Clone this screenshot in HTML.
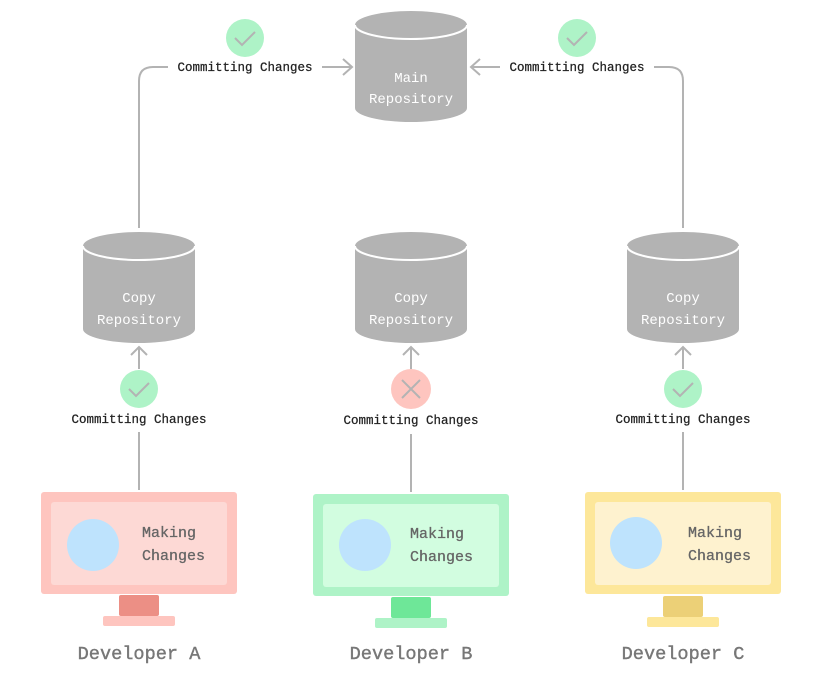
<!DOCTYPE html>
<html><head><meta charset="utf-8"><style>
html,body{margin:0;padding:0;background:#fff;}
svg{display:block;}
.m{font-family:"Liberation Mono","DejaVu Sans Mono",monospace;}
</style></head><body>
<svg width="821" height="679" viewBox="0 0 821 679" xmlns="http://www.w3.org/2000/svg">
<defs>
<g id="cyl">
<path d="M0,14 A56,14 0 0 1 112,14 L112,97 A56,14 0 0 1 0,97 Z" fill="#b3b3b3"/>
<path d="M0,14 A56,14 0 0 0 112,14" fill="none" stroke="#fff" stroke-width="2"/>
</g>
</defs>
<g fill="none" stroke="#b3b3b3" stroke-width="2">
<path d="M139,228 L139,81 Q139,67 153,67 L168,67"/>
<path d="M322,67 L352,67 M343,59 L352,67 L343,75"/>
<path d="M683,228 L683,81 Q683,67 669,67 L654,67"/>
<path d="M500,67 L471,67 M480,59 L471,67 L480,75"/>
<path d="M139,369 L139,347 M131,355 L139,347 L147,355"/>
<path d="M139,432 L139,490"/>
<path d="M411,369 L411,347 M403,355 L411,347 L419,355"/>
<path d="M411,434 L411,492"/>
<path d="M683,369 L683,347 M675,355 L683,347 L691,355"/>
<path d="M683,432 L683,490"/>
</g>
<use href="#cyl" x="355" y="11"/>
<use href="#cyl" x="83" y="232"/>
<use href="#cyl" x="355" y="232"/>
<use href="#cyl" x="627" y="232"/>
<g class="m" fill="#fff" font-size="14" text-anchor="middle">
<text x="411" y="82">Main</text><text x="411" y="103">Repository</text>
<text x="139" y="302">Copy</text><text x="139" y="324">Repository</text>
<text x="411" y="302">Copy</text><text x="411" y="324">Repository</text>
<text x="683" y="302">Copy</text><text x="683" y="324">Repository</text>
</g>
<g>
<circle cx="245" cy="38" r="19" fill="#aef3c7"/>
<circle cx="577" cy="38" r="19" fill="#aef3c7"/>
<circle cx="139" cy="389" r="19" fill="#aef3c7"/>
<circle cx="411" cy="389" r="20" fill="#fec5bf"/>
<circle cx="683" cy="389" r="19" fill="#aef3c7"/>
</g>
<g fill="none" stroke="#b3b3b3" stroke-width="2">
<path d="M235,38 L242,45 L255,32"/>
<path d="M567,38 L574,45 L587,32"/>
<path d="M129,389 L136,396 L149,383"/>
<path d="M673,389 L680,396 L693,383"/>
<path d="M402,380 L420,398 M420,380 L402,398"/>
</g>
<g class="m" fill="#222" font-size="12.5" text-anchor="middle" stroke="#222" stroke-width="0.25">
<text x="245" y="71">Committing Changes</text>
<text x="577" y="71">Committing Changes</text>
<text x="139" y="423">Committing Changes</text>
<text x="411" y="424">Committing Changes</text>
<text x="683" y="423">Committing Changes</text>
</g>
<g>
<rect x="41" y="492" width="196" height="102" rx="3" fill="#fec5bf"/>
<rect x="51" y="502" width="176" height="83" rx="3" fill="#fdd9d5"/>
<rect x="119" y="595" width="40" height="21" rx="2" fill="#ec8f85"/>
<rect x="103" y="616" width="72" height="10" rx="2" fill="#fec5bf"/>
<circle cx="93" cy="545" r="26" fill="#bee3fd"/>
<rect x="313" y="494" width="196" height="102" rx="3" fill="#aef3c7"/>
<rect x="323" y="504" width="176" height="83" rx="3" fill="#d2fde0"/>
<rect x="391" y="597" width="40" height="21" rx="2" fill="#6ee798"/>
<rect x="375" y="618" width="72" height="10" rx="2" fill="#aef3c7"/>
<circle cx="365" cy="545" r="26" fill="#bee3fd"/>
<rect x="585" y="492" width="196" height="102" rx="3" fill="#fde79a"/>
<rect x="595" y="502" width="176" height="83" rx="3" fill="#fef2cf"/>
<rect x="663" y="596" width="40" height="21" rx="2" fill="#ecd077"/>
<rect x="647" y="617" width="72" height="10" rx="2" fill="#fde79a"/>
<circle cx="636" cy="543" r="26" fill="#bee3fd"/>
</g>
<g class="m" fill="#666" font-size="15" stroke="#666" stroke-width="0.3">
<text x="142" y="537">Making</text><text x="142" y="560">Changes</text>
<text x="410" y="538">Making</text><text x="410" y="561">Changes</text>
<text x="688" y="537">Making</text><text x="688" y="560">Changes</text>
</g>
<g class="m" fill="#777" font-size="18.6" text-anchor="middle" stroke="#777" stroke-width="0.4">
<text x="139" y="659">Developer A</text>
<text x="411" y="659">Developer B</text>
<text x="683" y="659">Developer C</text>
</g>
</svg>
</body></html>
